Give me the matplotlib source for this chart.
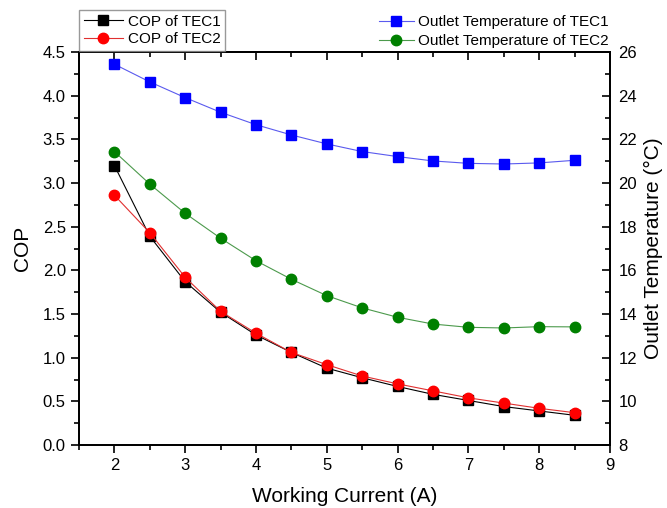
import matplotlib
matplotlib.use('Agg')
import matplotlib.pyplot as plt
from matplotlib.ticker import MultipleLocator

### Data #####################################################
current = [2, 2.5, 3, 3.5, 4, 4.5, 5, 5.5, 6, 6.5, 7, 7.5, 8, 8.5]
cop_tec1 = [3.20, 2.39, 1.87, 1.52, 1.26, 1.06, 0.88, 0.77, 0.67, 0.58, 0.51, 0.44, 0.39, 0.34]
cop_tec2 = [2.86, 2.43, 1.92, 1.53, 1.28, 1.06, 0.92, 0.79, 0.70, 0.62, 0.54, 0.48, 0.42, 0.37]
temp_tec1 = [25.44, 24.63, 23.91, 23.24, 22.67, 22.20, 21.79, 21.44, 21.21, 21.01, 20.90, 20.87, 20.92, 21.04]
temp_tec2 = [21.44, 19.95, 18.61, 17.47, 16.44, 15.59, 14.84, 14.28, 13.85, 13.54, 13.39, 13.36, 13.42, 13.41]
##############################################################

plt.rcParams['font.family'] = ['Liberation Sans', 'DejaVu Sans']

fig = plt.figure(figsize=(6.67, 5.08), dpi=100)
ax = fig.add_axes([79/667, 63/508, 531/667, 393/508])
ax2 = ax.twinx()

l1, = ax.plot(current, cop_tec1, '-s', color='black', mfc='black', mec='black',
              lw=0.8, ms=7, label='COP of TEC1')
l2, = ax.plot(current, cop_tec2, '-o', color='#e03030', mfc='red', mec='red',
              lw=0.8, ms=7.5, label='COP of TEC2')
l3, = ax2.plot(current, temp_tec1, '-s', color='#5a5aee', mfc='#0000ff', mec='#0000ff',
               lw=0.8, ms=7, label='Outlet Temperature of TEC1')
l4, = ax2.plot(current, temp_tec2, '-o', color='#4c9a4c', mfc='#008000', mec='#008000',
               lw=0.8, ms=7.5, label='Outlet Temperature of TEC2')

ax.set_xlim(1.5, 9)
ax.set_ylim(0, 4.5)
ax2.set_ylim(8, 26)

ax.xaxis.set_major_locator(MultipleLocator(1))
ax.xaxis.set_minor_locator(MultipleLocator(0.5))
ax.yaxis.set_major_locator(MultipleLocator(0.5))
ax.yaxis.set_minor_locator(MultipleLocator(0.25))
ax2.yaxis.set_major_locator(MultipleLocator(2))
ax2.yaxis.set_minor_locator(MultipleLocator(1))
ax.yaxis.set_major_formatter(plt.FormatStrFormatter('%.1f'))

for a in (ax, ax2):
    for s in a.spines.values():
        s.set_linewidth(1.3)

ax.tick_params(axis='both', which='both', direction='out', width=1.2, labelsize=12,
               top=False)
ax.tick_params(which='major', length=6)
ax.tick_params(which='minor', length=3.5)
ax2.tick_params(axis='y', which='both', direction='in', width=1.2, labelsize=12, pad=6)
ax2.tick_params(which='major', length=6)
ax2.tick_params(which='minor', length=3.5)

# inward ticks on the top edge
top = ax.secondary_xaxis('top')
top.xaxis.set_major_locator(MultipleLocator(1))
top.xaxis.set_minor_locator(MultipleLocator(0.5))
top.tick_params(which='both', direction='in', width=1.2, labeltop=False)
top.tick_params(which='major', length=6)
top.tick_params(which='minor', length=3.5)
top.spines['top'].set_linewidth(1.3)

ax.set_xlabel('Working Current (A)', fontsize=15, labelpad=10)
ax.set_ylabel('COP', fontsize=15, labelpad=8)
ax2.set_ylabel('Outlet Temperature (\u00b0C)', fontsize=15, labelpad=5)

leg1 = fig.legend([l1, l2], ['COP of TEC1', 'COP of TEC2'], loc='lower left',
                  bbox_to_anchor=(79/667, 457/508), fontsize=11, frameon=True,
                  fancybox=False, edgecolor='#808080', borderpad=0.3,
                  handlelength=2.6, handletextpad=0.3, labelspacing=0.25,
                  borderaxespad=0.0)
leg1.get_frame().set_linewidth(1.0)
fig.legend([l3, l4], ['Outlet Temperature of TEC1', 'Outlet Temperature of TEC2'],
           loc='lower right', bbox_to_anchor=(612/667, 457/508), fontsize=11,
           frameon=False, borderpad=0.2, handlelength=2.3, handletextpad=0.3,
           labelspacing=0.3, borderaxespad=0.0)

fig.savefig('out.png', dpi=100)
plt.close(fig)
